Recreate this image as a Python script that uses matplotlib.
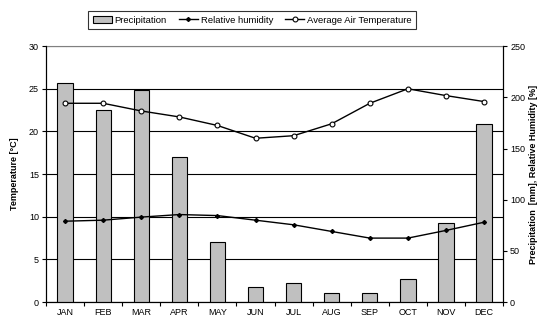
import numpy as np
from matplotlib import pyplot as plt

plt.rcParams['font.family'] = ['Liberation Sans', 'DejaVu Sans']

months = ['JAN', 'FEB', 'MAR', 'APR', 'MAY', 'JUN', 'JUL', 'AUG', 'SEP', 'OCT', 'NOV', 'DEC']
precipitation = [214, 188, 207, 142, 59, 15, 19, 8.5, 8.5, 23, 77, 174]
humidity = [79, 80, 83, 85.5, 84.5, 80, 75.5, 69, 62.5, 62.5, 70, 78]
temperature = [23.3, 23.3, 22.4, 21.7, 20.7, 19.2, 19.5, 20.9, 23.3, 25.0, 24.2, 23.5]

x = np.arange(len(months))

fig = plt.figure(figsize=(5.41, 3.18), dpi=100)
ax = fig.add_axes([0.085, 0.05, 0.845, 0.805])
ax2 = ax.twinx()
ax3 = ax.twinx()

# left axis: temperature scale + gridlines
ax.set_xlim(-0.5, 11.5)
ax.set_ylim(0, 30)
ax.set_yticks(np.arange(0, 31, 5))
ax.yaxis.grid(True, color='black', linewidth=0.8)
ax.set_axisbelow(True)
ax.set_xticks(x)
ax.set_xticklabels(months)
ax.set_xticks(np.arange(-0.5, 12, 1), minor=True)
ax.tick_params(axis='x', which='major', length=0, pad=4, labelsize=6.5)
ax.tick_params(axis='x', which='minor', length=3, width=0.8)
ax.tick_params(axis='y', length=3, width=0.8, labelsize=6.5, pad=2)
ax.set_ylabel('Temperature [°C]', fontsize=6.5, fontweight='bold', labelpad=7)
ax.spines['top'].set_color('#808080')

# right axis: precipitation and humidity
ax2.bar(x, precipitation, width=0.4, color='#c0c0c0', edgecolor='black',
        linewidth=0.8, label='Precipitation', zorder=2)
ax2.plot(x, humidity, color='black', linewidth=1, marker='D', markersize=2,
         label='Relative humidity', zorder=3)
ax2.set_ylim(0, 250)
ax2.set_yticks(np.arange(0, 251, 50))
ax2.tick_params(axis='y', length=3, width=0.8, labelsize=6.5, pad=2)
ax2.set_ylabel('Precipitation  [mm], Relative Humidity [%]', fontsize=6.5,
               fontweight='bold', labelpad=3)
ax2.spines['top'].set_visible(False)

# temperature line drawn on top
ax3.plot(x, temperature, color='black', linewidth=1, marker='o', markersize=3.5,
         markerfacecolor='white', markeredgecolor='black', markeredgewidth=0.8,
         label='Average Air Temperature')
ax3.set_ylim(0, 30)
ax3.set_yticks([])
for s in ax3.spines.values():
    s.set_visible(False)

handles = [ax2.containers[0], ax2.get_lines()[0], ax3.get_lines()[0]]
labels = ['Precipitation', 'Relative humidity', 'Average Air Temperature']
leg = fig.legend(handles, labels, loc='center', bbox_to_anchor=(0.466, 0.937),
                 ncol=3, fontsize=6.8, frameon=True, fancybox=False,
                 edgecolor='black', handlelength=2.0, handletextpad=0.3,
                 columnspacing=1.3, borderpad=0.45)
leg.get_frame().set_linewidth(0.8)

plt.savefig('out.png', dpi=100)
plt.close()
